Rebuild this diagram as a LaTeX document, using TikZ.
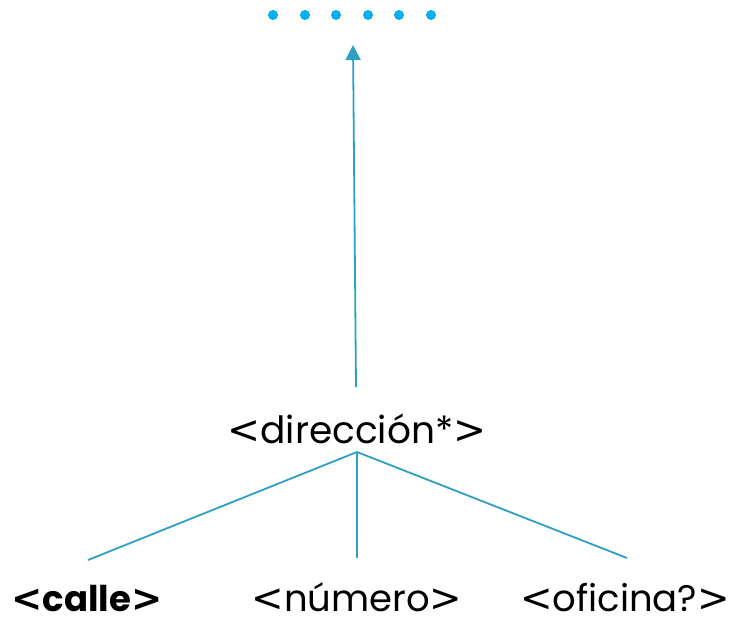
\documentclass[tikz,border=0pt]{standalone}
\usepackage{fontspec}
\setmainfont{Poppins}
\newfontfamily\brk{DejaVu Sans}[Scale=1.05]
\usetikzlibrary{arrows.meta}
\definecolor{dotc}{RGB}{0,176,240}
\definecolor{linec}{RGB}{46,160,196}
\newcommand{\lab}{{\brk <}}
\newcommand{\rab}{{\brk >}}
\begin{document}
\begin{tikzpicture}[x=1pt,y=-1pt,
  dotn/.style={circle,fill=dotc,inner sep=0pt,minimum size=10pt},
  lbl/.style={inner sep=0pt,anchor=base,font=\fontsize{37.5}{42}\selectfont},
  sub/.style={inner sep=0pt,anchor=base,font=\fontsize{37}{40}\selectfont},
  conn/.style={draw=linec,line width=1.8pt}]
\useasboundingbox (0,0) rectangle (730,619);
\foreach \i/\x in {1/273,2/305,3/336,4/368,5/399,6/431}
  \node[dotn] (d\i) at (\x,15) {};
\coordinate (top) at (353,45);
\coordinate (up) at (356,387);
\node[lbl] (dir) at (357,443) {\lab dirección*\rab};
\coordinate (hub) at (357,452);
\coordinate (cl) at (88,560);
\coordinate (cm) at (357,558);
\coordinate (cr) at (627,558);
\node[sub,font=\fontsize{35.5}{40}\selectfont\bfseries] (calle) at (87,611) {\lab calle\rab};
\node[sub] (num) at (357,611) {\lab número\rab};
\node[sub] (ofi) at (625,611) {\lab oficina?\rab};
\draw[conn,-{Triangle[length=15pt,width=15pt]}] (up) -- (top);
\draw[conn] (hub) -- (cl);
\draw[conn] (hub) -- (cm);
\draw[conn] (hub) -- (cr);
\end{tikzpicture}
\end{document}
